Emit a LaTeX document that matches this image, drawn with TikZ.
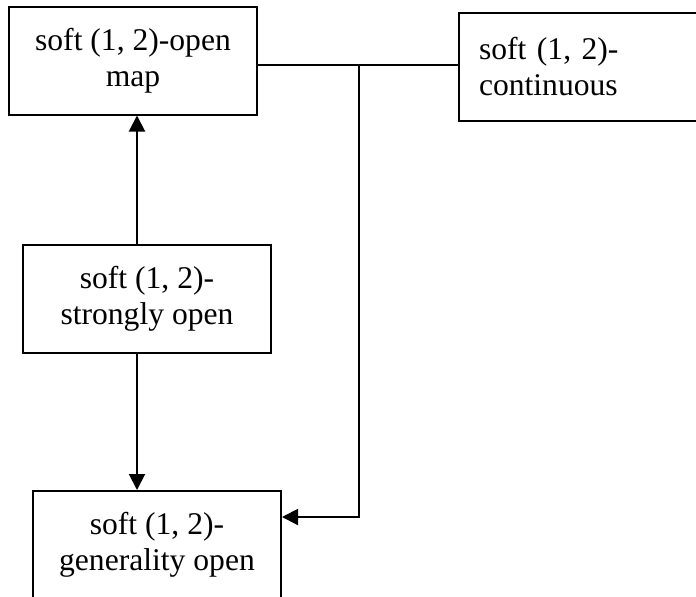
\documentclass[tikz,border=0pt]{standalone}
\usepackage{fontspec}
\setmainfont{Liberation Serif}
\usetikzlibrary{arrows.meta, positioning, calc}

\begin{document}
\begin{tikzpicture}[x=0.5pt, y=-0.5pt,
    every node/.style={font=\fontsize{15.8}{18}\selectfont},
    mapBox/.style={draw, line width=1pt, minimum width=124pt, minimum height=54pt, align=center, inner sep=0pt},
    arr/.style={line width=1pt, -{Triangle[length=8pt, width=8pt]}}
]
    \useasboundingbox (0, 0) rectangle (696, 596);

    % --- Boxes ---
    \node[mapBox] (openMap) at (133, 60.5) {soft (1, 2)-open\\map};
    \node[mapBox, align=left, text width=104pt, inner xsep=10pt, minimum width=124pt] (cont) at (583, 67) {soft (1, 2)-\\continuous};
    \node[mapBox] (strong) at (147, 299) {soft (1, 2)-\\strongly open};
    \node[mapBox] (gen) at (157, 545) {soft (1, 2)-\\generality open};

    % helper points
    \coordinate (ax) at (137, 0);
    \coordinate (junc) at (359, 65);
    \coordinate (bend) at (359, 517);

    % --- Connectors ---
    \draw[arr] (strong.north -| ax) -- (openMap.south -| ax);
    \draw[arr] (strong.south -| ax) -- (gen.north -| ax);
    \draw[line width=1pt] (openMap.east |- junc) -- (cont.west |- junc);
    \draw[arr] (junc) -- (bend) -- (gen.east |- bend);
\end{tikzpicture}
\end{document}
